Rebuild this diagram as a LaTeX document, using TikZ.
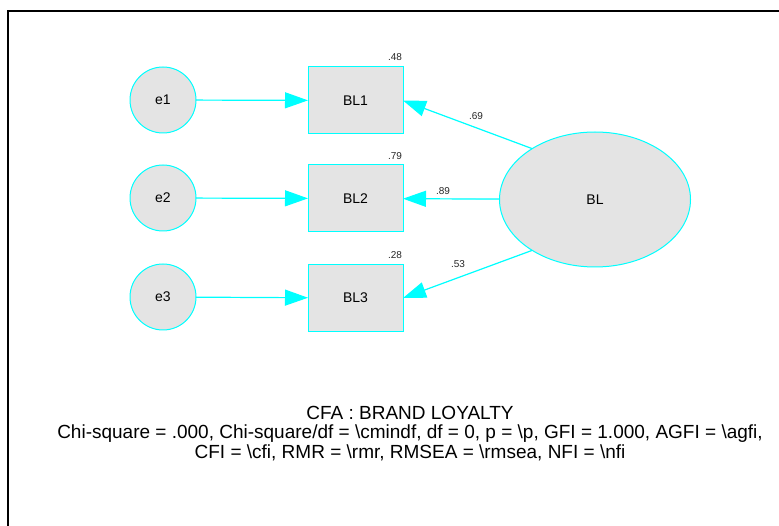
\documentclass[tikz,border=0pt]{standalone}
\usepackage{fontspec}
\setmainfont{Liberation Sans}
\usetikzlibrary{shapes.geometric,arrows.meta}
\definecolor{semcyan}{RGB}{0,255,255}
\definecolor{semgray}{RGB}{228,228,228}
\begin{document}
\begin{tikzpicture}[x=1pt,y=-1pt,
  every node/.style={inner sep=0pt,outer sep=0pt},
  errnode/.style={circle,draw=semcyan,fill=semgray,line width=1pt,minimum size=66pt,font=\fontsize{14}{16}\selectfont},
  obsnode/.style={rectangle,draw=semcyan,fill=semgray,line width=1pt,minimum width=95pt,minimum height=67pt,font=\fontsize{14}{16}\selectfont},
  latnode/.style={ellipse,draw=semcyan,fill=semgray,line width=1pt,minimum width=191pt,minimum height=135pt,font=\fontsize{14}{16}\selectfont},
  path/.style={draw=semcyan,line width=1.2pt,-{Triangle[length=23pt,width=16pt]},fill=semcyan},
  lbl/.style={font=\fontsize{10}{12}\selectfont,text=black!85},
  note/.style={font=\fontsize{19}{20}\selectfont,anchor=base}]
\useasboundingbox (0,0) rectangle (779,526);
\draw[line width=2pt,black] (7.5,527) -- (7.5,11.5) -- (780,11.5);

\node[errnode] (e1) at (163,100) {e1};
\node[errnode] (e2) at (163,198) {e2};
\node[errnode] (e3) at (163,297) {e3};

\node[obsnode] (BL1) at (355.5,100.5) {BL1};
\node[obsnode] (BL2) at (355.5,198.5) {BL2};
\node[obsnode] (BL3) at (355.5,298) {BL3};

\node[latnode] (BL) at (595,199.5) {BL};

\draw[path] (e1) -- (BL1);
\draw[path] (e2) -- (BL2);
\draw[path] (e3) -- (BL3);
\draw[path] (BL.141) -- (BL1.east);
\draw[path] (BL) -- (BL2);
\draw[path] (BL.219) -- (BL3.east);

\node[lbl] (r1) at (395,57) {.48};
\node[lbl] (r2) at (395,156) {.79};
\node[lbl] (r3) at (395,255) {.28};
\node[lbl] (w1) at (476,116) {.69};
\node[lbl] (w2) at (443,191) {.89};
\node[lbl] (w3) at (458,264) {.53};

\node[note] (title) at (410,419) {CFA : BRAND LOYALTY};
\node[note] (fit1) at (410,438.5) {Chi-square = .000, Chi-square/df = \textbackslash cmindf, df = 0, p = \textbackslash p, GFI = 1.000, AGFI = \textbackslash agfi,};
\node[note] (fit2) at (410,458) {CFI = \textbackslash cfi, RMR = \textbackslash rmr, RMSEA = \textbackslash rmsea, NFI = \textbackslash nfi};
\end{tikzpicture}
\end{document}
